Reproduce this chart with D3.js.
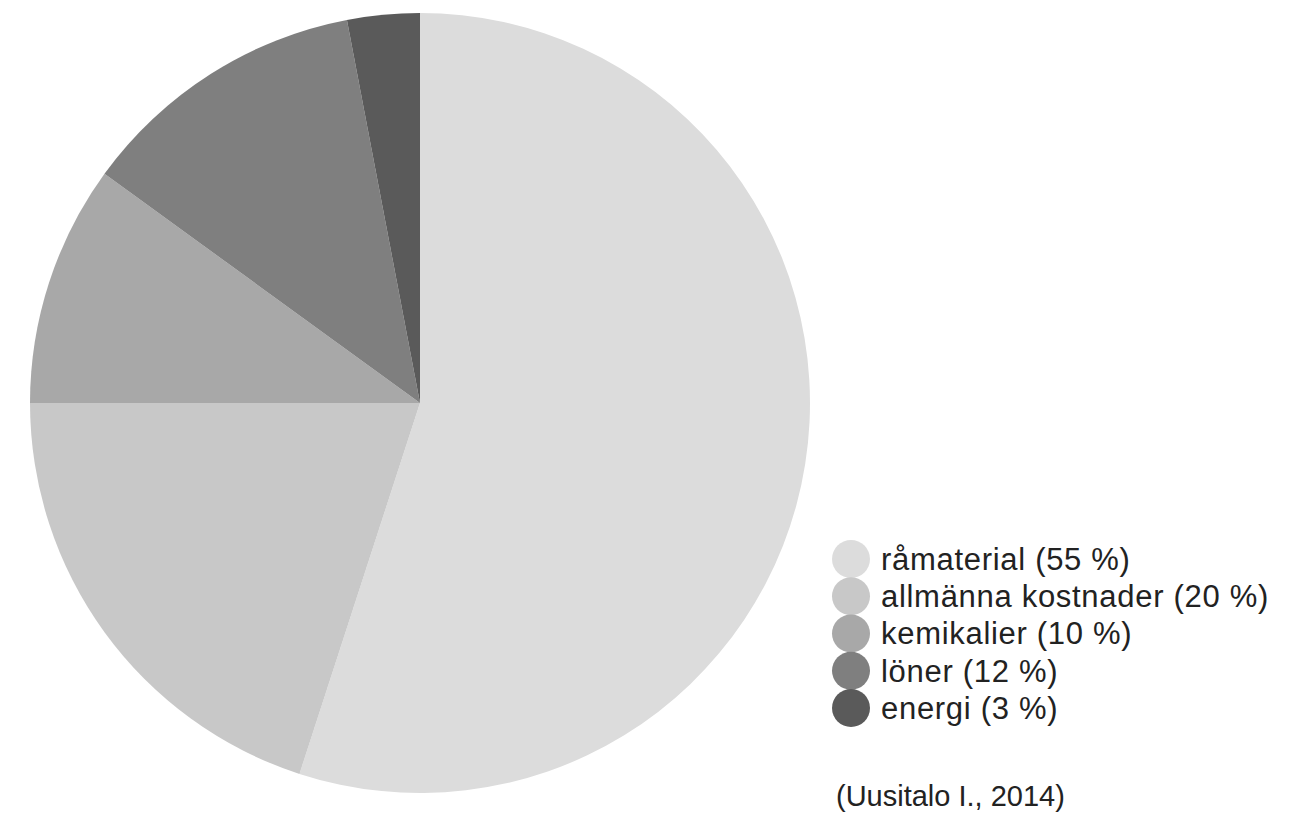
<!DOCTYPE html>
<html>
<head>
<meta charset="utf-8">
<script src="https://cdn.jsdelivr.net/npm/d3@7"></script>
<style>
  body { margin: 0; background: #fff; }
  text { font-family: "Liberation Sans", Arial, sans-serif; fill: #222; }
</style>
</head>
<body>
<div id="chart"></div>
<script>
// data
const categories = ["råmaterial", "allmänna kostnader", "kemikalier", "löner", "energi"];
const shares = [55, 20, 10, 12, 3];
const colors = ["#dcdcdc", "#c8c8c8", "#a8a8a8", "#7f7f7f", "#5a5a5a"];
const source = "(Uusitalo I., 2014)";

const width = 1304, height = 813;
const cx = 420, cy = 403, radius = 390;

const svg = d3.select("#chart")
    .append("svg")
    .attr("width", width)
    .attr("height", height);

const pie = d3.pie().sort(null).value(d => d);
const arc = d3.arc().innerRadius(0).outerRadius(radius);

const color = d3.scaleOrdinal().domain(categories).range(colors);

// slices
svg.append("g")
    .attr("transform", `translate(${cx}, ${cy})`)
    .selectAll("path")
    .data(pie(shares))
    .join("path")
    .attr("d", arc)
    .attr("fill", (d, i) => color(categories[i]));

// legend
const legY = d3.scalePoint()
    .domain(categories)
    .range([559, 708]);

const leg = svg.append("g")
    .selectAll("g")
    .data(categories)
    .join("g")
    .attr("transform", d => `translate(851, ${legY(d)})`);

leg.append("circle")
    .attr("r", 19)
    .attr("fill", d => color(d));

leg.append("text")
    .attr("x", 30)
    .attr("dy", "0.35em")
    .style("font-size", "31px")
    .style("letter-spacing", "0.7px")
    .text((d, i) => `${d} (${shares[i]} %)`);

svg.append("text")
    .attr("x", 836)
    .attr("y", 806)
    .style("font-size", "29px")
    .text(source);
</script>
</body>
</html>
